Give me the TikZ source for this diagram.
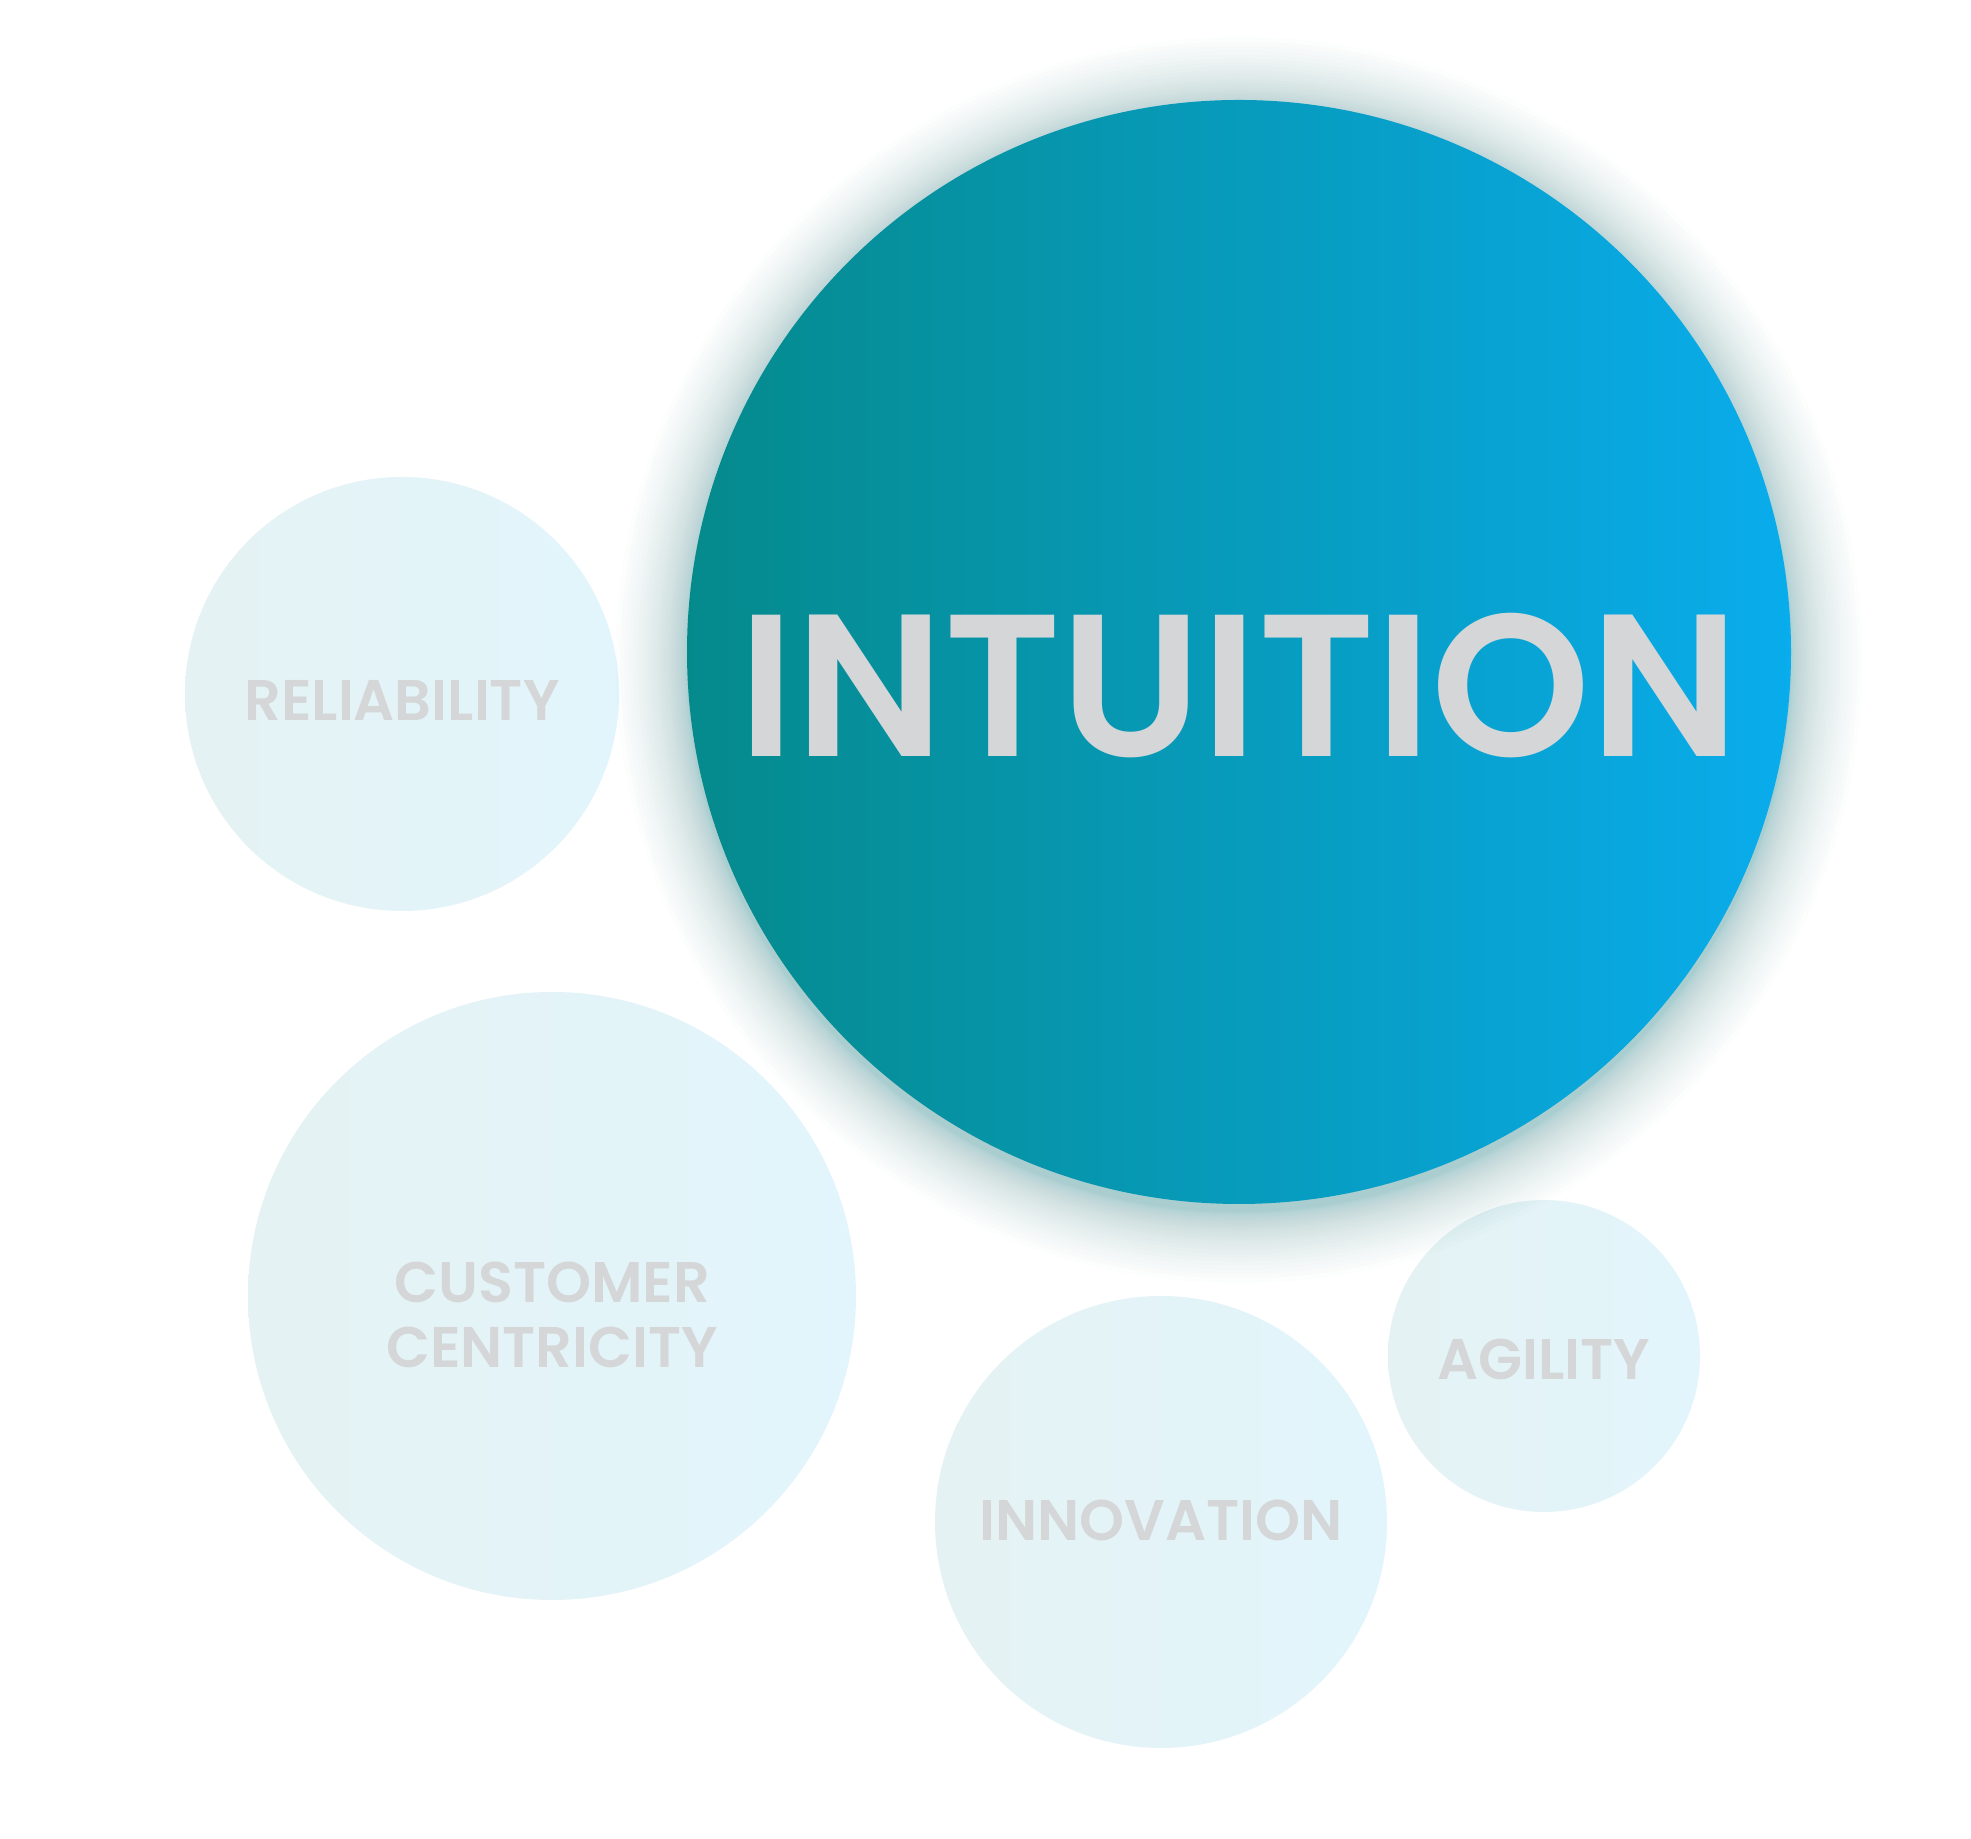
\documentclass[tikz,border=0pt]{standalone}
\usepackage{fontspec}
\setmainfont{Poppins}[BoldFont={Poppins SemiBold}]
\usetikzlibrary{positioning}
\definecolor{tealdark}{HTML}{058A8C}
\definecolor{skyblue}{HTML}{09ACEC}
\definecolor{glowcol}{HTML}{0A8488}
\definecolor{paleleft}{HTML}{E5F2F3}
\definecolor{paleright}{HTML}{E2F5FC}
\definecolor{wordgray}{HTML}{D5D6D8}
\begin{document}
\begin{tikzpicture}[
			bubble/.style={circle,inner sep=0pt,left color=paleleft,right color=paleright},
			mainbubble/.style={circle,inner sep=0pt,left color=tealdark,right color=skyblue},
			word/.style={text=wordgray,font=\fontsize{16.3}{19}\selectfont\bfseries,align=center,inner sep=0pt},
			bigword/.style={text=wordgray,font=\fontsize{57.6}{60}\selectfont\bfseries,inner sep=0pt}]
			\useasboundingbox[fill=white] (0,0) rectangle (19.71,18.39);
			% small circles
			\node[bubble,minimum size=4.34cm] (reli) at (4.02,11.45) {};
			\node[bubble,minimum size=6.08cm] (cust) at (5.52,5.43) {};
			\node[bubble,minimum size=4.52cm] (inno) at (11.61,3.17) {};
			\node[bubble,minimum size=3.12cm] (agil) at (15.44,4.83) {};
			% glow behind the big one
			\coordinate (glow) at (12.39,11.79);
			\foreach \k in {1,...,30}
				\fill[glowcol,opacity=0.01] (glow) circle ({5.52+0.0008*\k*\k});
			\node[mainbubble,minimum size=11.04cm] (main) at (12.39,11.87) {};
			% labels
			\node[bigword] (intu) at ([yshift=-0.34cm]main.center) {INTUITION};
			\node[word] (relit) at ([yshift=-0.06cm]reli.center) {RELIABILITY};
			\node[word] (custt) at ([yshift=-0.19cm]cust.center) {CUSTOMER\\[-0.02cm]CENTRICITY};
			\node[word] (innot) at ([yshift=0.02cm]inno.center) {INNOVATION};
			\node[word] (agilt) at ([yshift=-0.03cm]agil.center) {AGILITY};
		\end{tikzpicture}
\end{document}
